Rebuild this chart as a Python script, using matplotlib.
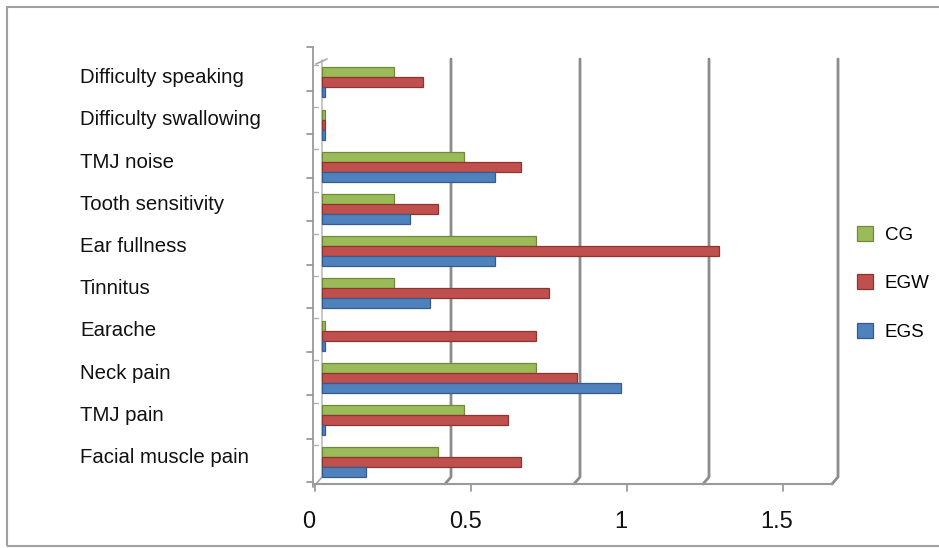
import matplotlib
matplotlib.use("Agg")
import matplotlib.pyplot as plt
from matplotlib.patches import Rectangle
import numpy as np

plt.rcParams["font.family"] = ["Liberation Sans", "DejaVu Sans"]

# ---- data -------------------------------------------------------------
categories = [
    "Difficulty speaking", "Difficulty swallowing", "TMJ noise",
    "Tooth sensitivity", "Ear fullness", "Tinnitus", "Earache",
    "Neck pain", "TMJ pain", "Facial muscle pain",
]
series_names = ["CG", "EGW", "EGS"]
cg  = [0.28, 0.01, 0.55, 0.28, 0.83, 0.28, 0.01, 0.83, 0.55, 0.45]
egw = [0.39, 0.01, 0.77, 0.45, 1.54, 0.88, 0.83, 0.99, 0.72, 0.77]
egs = [0.01, 0.01, 0.67, 0.34, 0.67, 0.42, 0.01, 1.16, 0.01, 0.17]
front_ticks = [0, 0.5, 1, 1.5]
front_tick_labels = ["0", "0.5", "1", "1.5"]
wall_gridlines = [0.5, 1, 1.5, 2]

colors = ["#9BBB59", "#C0504D", "#4F81BD"]
edges = ["#6F8A3C", "#8E3532", "#355C8C"]

# ---- figure / axes geometry (pixels) ---------------------------------
W, H = 939, 548
fig = plt.figure(figsize=(W / 100, H / 100), dpi=100)

X0_PX, PX_PER_UNIT = 322, 258          # back wall: value 0 and scale
TOP_PX, SLOT_PX = 58, 42.2             # back wall top and category pitch
AX_L, AX_R = 300, 850
AX_B = TOP_PX + 10 * SLOT_PX

ax = fig.add_axes([AX_L / W, 1 - AX_B / H, (AX_R - AX_L) / W, (AX_B - TOP_PX) / H])
ax.set_xlim((AX_L - X0_PX) / PX_PER_UNIT, (AX_R - X0_PX) / PX_PER_UNIT)
ax.set_ylim(10, 0)
ax.patch.set_visible(False)
for s in ax.spines.values():
    s.set_visible(False)


def px2x(px):
    return (px - X0_PX) / PX_PER_UNIT


def py2y(py):
    return (py - TOP_PX) / SLOT_PX


# front (perspective) value axis: value -> data x
FRONT_X0_PX, FRONT_PX_PER_UNIT = 315, 312


def front_x(v):
    return px2x(FRONT_X0_PX + v * FRONT_PX_PER_UNIT)


grid_col = "#8c8c8c"
axis_col = "#9a9a9a"
floor_back = py2y(477)
floor_front = py2y(484)
kw = dict(clip_on=False, solid_capstyle="round", solid_joinstyle="round")

# back-wall gridlines bending onto the floor
for v in wall_gridlines:
    ax.plot([v, v, v - 6 / PX_PER_UNIT], [py2y(59), floor_back, floor_front],
            color=grid_col, lw=2.0, zorder=1, **kw)

# left wall edges
ax.plot([0, 0], [py2y(60), floor_back], color="#bdbdbd", lw=1.2, zorder=1, **kw)
ax.plot([px2x(316), px2x(327)], [py2y(64), py2y(59)], color="#a8a8a8", lw=1.2, **kw)
ax.plot([px2x(316), 0], [floor_front, floor_back], color="#a8a8a8", lw=1.2, **kw)

# front category axis with ticks
ax.plot([px2x(313), px2x(313)], [py2y(47), py2y(487)], color=axis_col, lw=1.3, **kw)
front_pitch = (482 - 47) / 10
for k in range(11):
    yy = py2y(47 + k * front_pitch)
    ax.plot([px2x(307), px2x(313)], [yy, yy], color=axis_col, lw=1.3, **kw)
for k in range(10):
    yy = k + 7 / SLOT_PX
    ax.plot([px2x(313), px2x(318)], [yy, yy], color="#b0b0b0", lw=1.0, **kw)

# front value axis (floor edge) with ticks and labels
ax.plot([px2x(313), px2x(832)], [floor_front, floor_front], color=axis_col, lw=1.5, **kw)
for v, lab in zip(front_ticks, front_tick_labels):
    fx = front_x(v)
    ax.plot([fx, fx], [floor_front, py2y(491)], color=axis_col, lw=1.3, **kw)
    ax.text(fx - 6 / PX_PER_UNIT, py2y(528), lab, ha="center", va="baseline",
            fontsize=17, color="#111111", clip_on=False)

# ---- bars ---------------------------------------------------------------
idx = np.arange(len(categories))
bar_h = 10 / SLOT_PX
offsets = [0.225 + bar_h / 2, 0.225 + 1.5 * bar_h, 0.225 + 2.5 * bar_h]
handles = []
for vals, off, c, e in zip([cg, egw, egs], offsets, colors, edges):
    b = ax.barh(idx + off, vals, height=bar_h, left=0, color=c,
                edgecolor=e, linewidth=0.9, zorder=3, clip_on=False)
    handles.append(b)

# category labels
ax.set_xticks([])
ax.set_yticks(idx + 0.42)
ax.set_yticklabels(categories, fontsize=14.7, color="#111111", ha="left")
ax.tick_params(axis="y", length=0, pad=(AX_L - 80) * 72 / 100)

# legend
ax.legend(handles, series_names, loc="upper left",
          bbox_to_anchor=(857 / W, 1 - 226 / H), bbox_transform=fig.transFigure,
          frameon=False, fontsize=13.5, handlelength=0.85, handleheight=0.85,
          handletextpad=0.64, labelspacing=1.62, borderpad=0, borderaxespad=0)

# outer chart border
fig.patches.append(Rectangle((7 / W, 1 - 546 / H), (980 - 7) / W, (546 - 7) / H,
                             transform=fig.transFigure, fill=False,
                             edgecolor="#a0a0a0", lw=1.5))

fig.savefig("out.png", dpi=100)
